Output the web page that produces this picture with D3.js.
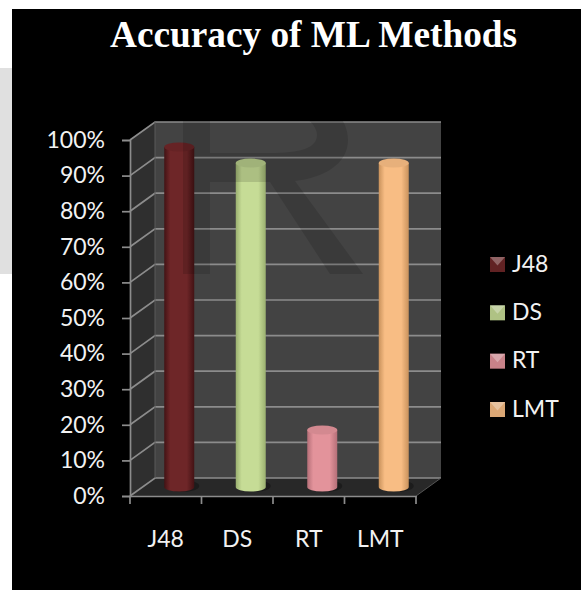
<!DOCTYPE html>
<html>
<head>
<meta charset="utf-8">
<script src="https://cdn.jsdelivr.net/npm/d3@7"></script>
<style>
    html, body { margin: 0; padding: 0; background: #fff; }
    svg { display: block; }
    text { font-family: Lato, "Open Sans", sans-serif; fill: #f2f2f2; }
</style>
</head>
<body>
<svg id="chart" width="581" height="590"></svg>
<script>
// Chart data
const methods = ['J48', 'DS', 'RT', 'LMT'];
const accuracy = [95.5, 91, 16, 91];
const barColors = ['#6e2628', '#c6dc96', '#e3939b', '#f8bd84'];
const darkColors = ['#431214', '#9bb070', '#b56f78', '#c9925c'];
const percentTicks = [0, 10, 20, 30, 40, 50, 60, 70, 80, 90, 100];

const svg = d3.select('#chart');
const defs = svg.append('defs');

// Front plane of the 3D box, the walls are shifted back by depthX / depthY
const depthX = 25, depthY = -18;
const x = d3.scaleBand().domain(methods).range([130, 416]);
const y = d3.scaleLinear().domain([0, 100]).range([496, 140]);
const grey = '#8c8c8c';

// Background
svg.append('rect').attr('x', 0).attr('y', 68).attr('width', 12).attr('height', 206).attr('fill', '#e0e0e0');
svg.append('rect').attr('x', 12).attr('y', 9).attr('width', 569).attr('height', 581).attr('fill', '#000');

// Title
svg.append('text')
    .attr('x', 313.5).attr('y', 47)
    .attr('text-anchor', 'middle')
    .style('font-family', '"Liberation Serif", serif')
    .style('font-weight', 'bold')
    .style('font-size', '37.3px')
    .style('fill', '#fff')
    .text('Accuracy of ML Methods');

// Walls and floor
const x0 = x.range()[0], x1 = x.range()[1];
const yTop = y(100), yBase = y(0);
svg.append('path')
    .attr('d', `M${x0},${yBase}L${x0 + depthX},${yBase + depthY}V${yTop + depthY}L${x0},${yTop}Z`)
    .attr('fill', '#2f2f2f');
svg.append('rect')
    .attr('x', x0 + depthX).attr('y', yTop + depthY)
    .attr('width', x1 - x0).attr('height', yBase - yTop)
    .attr('fill', '#434343');
svg.append('path')
    .attr('d', `M${x0},${yBase}H${x1}L${x1 + depthX},${yBase + depthY}H${x0 + depthX}Z`)
    .attr('fill', '#282828');

// Gridlines on side and back walls
svg.append('g').selectAll('path').data(percentTicks).join('path')
    .attr('d', d => `M${x0},${y(d)}L${x0 + depthX},${y(d) + depthY}H${x1 + depthX}`)
    .attr('fill', 'none')
    .attr('stroke', grey)
    .attr('stroke-width', 1.7);
svg.append('path')
    .attr('d', `M${x0 + depthX},${yTop + depthY}V${yBase + depthY}`)
    .attr('stroke', '#5a5a5a');
svg.append('path')
    .attr('d', `M${x1},${yBase}L${x1 + depthX},${yBase + depthY}`)
    .attr('stroke', '#555');

// Cylinders, gradient across the body
methods.forEach((m, i) => {
    const grad = defs.append('linearGradient').attr('id', 'bar' + i);
    grad.append('stop').attr('offset', '0%').attr('stop-color', darkColors[i]);
    grad.append('stop').attr('offset', '20%').attr('stop-color', barColors[i]);
    grad.append('stop').attr('offset', '75%').attr('stop-color', barColors[i]);
    grad.append('stop').attr('offset', '100%').attr('stop-color', darkColors[i]);
});

const barWidth = 30, capRy = 4.5;
const barX = m => x(m) + x.bandwidth() / 2 + depthX / 2 - 14;
const barBase = yBase + depthY / 2;
const bars = svg.append('g').selectAll('g').data(methods).join('g');

// Shadow on the floor
bars.append('ellipse')
    .attr('cx', m => barX(m) + barWidth / 2 + 3)
    .attr('cy', barBase - 1)
    .attr('rx', barWidth / 2 + 2)
    .attr('ry', 6)
    .attr('fill', '#1c1c1c');
bars.append('path')
    .attr('d', (m, i) => {
        const l = barX(m), r = l + barWidth, top = y(accuracy[i]) + depthY / 2;
        return `M${l},${top}V${barBase}A${barWidth / 2},${capRy} 0 0 0 ${r},${barBase}V${top}Z`;
    })
    .attr('fill', (m, i) => `url(#bar${i})`);
bars.append('ellipse')
    .attr('cx', m => barX(m) + barWidth / 2)
    .attr('cy', (m, i) => y(accuracy[i]) + depthY / 2)
    .attr('rx', barWidth / 2)
    .attr('ry', capRy)
    .attr('fill', (m, i) => d3.color(barColors[i]).darker(0.2));

// Faint watermark letter over the plot, stops where the grey panel ends
svg.append('path')
    .attr('d', 'M183,274V95H280C330,95 348,118 348,140C348,165 322,178 295,181L363,274H330L270,182H210V274Z'
        + 'M210,110V153H270C300,153 317,148 317,135C317,125 305,110 270,110Z')
    .attr('fill', '#000')
    .attr('fill-rule', 'evenodd')
    .attr('opacity', 0.13);

// Axes
const yAxis = d3.axisLeft(y).tickValues(percentTicks).tickFormat(d => d + '%').tickSize(8).tickPadding(17);
const xAxis = d3.axisBottom(x).tickValues([]).tickSizeOuter(0);

const yG = svg.append('g').attr('transform', `translate(${x0},0)`).call(yAxis);
yG.select('.domain').attr('stroke', grey).attr('stroke-width', 1.7);
yG.selectAll('line').attr('stroke', grey).attr('stroke-width', 1.7);
yG.selectAll('text').style('font-size', '23px').style('fill', '#f2f2f2').attr('font-family', null);

const xG = svg.append('g').attr('transform', `translate(0,${yBase})`).call(xAxis);
xG.select('.domain').attr('stroke', grey).attr('stroke-width', 1.7);
xG.selectAll('.edge').data(d3.range(methods.length + 1)).join('line')
    .attr('class', 'edge')
    .attr('x1', i => x0 + i * x.step()).attr('x2', i => x0 + i * x.step())
    .attr('y1', 0).attr('y2', 8)
    .attr('stroke', grey).attr('stroke-width', 1.7);
xG.selectAll('.cat').data(methods).join('text')
    .attr('class', 'cat')
    .attr('x', m => x(m) + x.bandwidth() / 2)
    .attr('y', 51)
    .attr('text-anchor', 'middle')
    .style('font-size', '23px')
    .text(m => m);

// Legend
const legendY = d3.scalePoint().domain(methods).range([264.5, 409.5]);
const legend = svg.append('g').selectAll('g').data(methods).join('g')
    .attr('transform', m => `translate(490,${legendY(m)})`);
legend.append('rect')
    .attr('x', 0).attr('y', -7.5).attr('width', 15).attr('height', 15)
    .attr('fill', (m, i) => d3.color(barColors[i]).darker(0.35));
legend.append('path')
    .attr('d', 'M0,-7.5H15L7.5,1Z')
    .attr('fill', '#fff').attr('opacity', 0.3);
legend.append('text')
    .attr('x', 22).attr('y', 7)
    .style('font-size', '23px')
    .text(m => m);
</script>
</body>
</html>
